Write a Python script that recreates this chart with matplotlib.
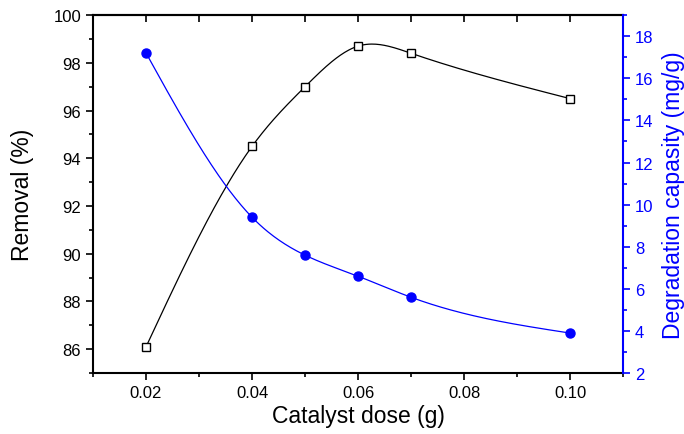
import numpy as np
import matplotlib.pyplot as plt
from matplotlib.ticker import MultipleLocator, NullFormatter

plt.rcParams["font.family"] = ["Liberation Sans", "DejaVu Sans"]

dose = [0.02, 0.04, 0.05, 0.06, 0.07, 0.10]
removal = [86.1, 94.5, 97.0, 98.7, 98.4, 96.5]
capacity = [17.2, 9.4, 7.6, 6.6, 5.6, 3.9]


def spline(x, y, n=300):
    # natural cubic spline, just for the smooth connecting line
    x = np.asarray(x, float)
    y = np.asarray(y, float)
    k = len(x)
    h = np.diff(x)
    A = np.zeros((k, k))
    b = np.zeros(k)
    A[0, 0] = A[-1, -1] = 1
    for i in range(1, k - 1):
        A[i, i - 1] = h[i - 1]
        A[i, i] = 2 * (h[i - 1] + h[i])
        A[i, i + 1] = h[i]
        b[i] = 6 * ((y[i + 1] - y[i]) / h[i] - (y[i] - y[i - 1]) / h[i - 1])
    M = np.linalg.solve(A, b)
    xs = np.linspace(x[0], x[-1], n)
    j = np.clip(np.searchsorted(x, xs) - 1, 0, k - 2)
    t1 = x[j + 1] - xs
    t0 = xs - x[j]
    hj = h[j]
    ys = (M[j] * t1**3 + M[j + 1] * t0**3) / (6 * hj) \
        + (y[j] / hj - M[j] * hj / 6) * t1 + (y[j + 1] / hj - M[j + 1] * hj / 6) * t0
    return xs, ys


fig, ax = plt.subplots(figsize=(6.84, 4.35), dpi=100)
fig.subplots_adjust(left=0.136, right=0.911, top=0.963, bottom=0.14)
ax2 = ax.twinx()

xs, ys = spline(dose, removal)
ax.plot(xs, ys, "k-", lw=0.9)
ax.plot(dose, removal, "s", ms=6, mfc="white", mec="black", mew=1)

xs, ys = spline(dose, capacity)
ax2.plot(xs, ys, "b-", lw=0.9)
ax2.plot(dose, capacity, "o", ms=6.5, color="blue")

ax.set_xlim(0.01, 0.11)
ax.set_ylim(85, 100)
ax2.set_ylim(2, 19)

ax.xaxis.set_major_locator(MultipleLocator(0.02))
ax.xaxis.set_minor_locator(MultipleLocator(0.01))
ax.yaxis.set_major_locator(MultipleLocator(2))
ax.yaxis.set_minor_locator(MultipleLocator(1))
ax2.yaxis.set_major_locator(MultipleLocator(2))
ax2.yaxis.set_minor_locator(MultipleLocator(1))
ax.xaxis.set_major_formatter(plt.FormatStrFormatter("%.2f"))

ax.tick_params(axis="both", which="major", labelsize=12, length=5, width=1.2, direction="out")
ax.tick_params(axis="both", which="minor", length=3, width=1.2, direction="out")
ax2.tick_params(axis="y", which="major", labelsize=12, length=5, width=1.2, colors="blue")
ax2.tick_params(axis="y", which="minor", length=3, width=1.2, colors="blue")

# top ticks point inward, every 0.01
top = ax.secondary_xaxis("top")
top.xaxis.set_major_locator(MultipleLocator(0.01))
top.xaxis.set_major_formatter(NullFormatter())
top.tick_params(direction="in", length=5, width=1.2)
top.spines["top"].set_linewidth(1.5)

for s in ["left", "bottom", "top"]:
    ax.spines[s].set_linewidth(1.5)
ax2.spines["right"].set_color("blue")
ax2.spines["right"].set_linewidth(1.5)
for s in ["left", "bottom", "top"]:
    ax2.spines[s].set_visible(False)
ax.spines["right"].set_visible(False)

ax.set_xlabel("Catalyst dose (g)", fontsize=16.5, labelpad=3)
ax.set_ylabel("Removal (%)", fontsize=16.5, labelpad=14)
ax2.set_ylabel("Degradation capasity (mg/g)", fontsize=16.5, color="blue", labelpad=6)

fig.savefig("out.png", dpi=100)
